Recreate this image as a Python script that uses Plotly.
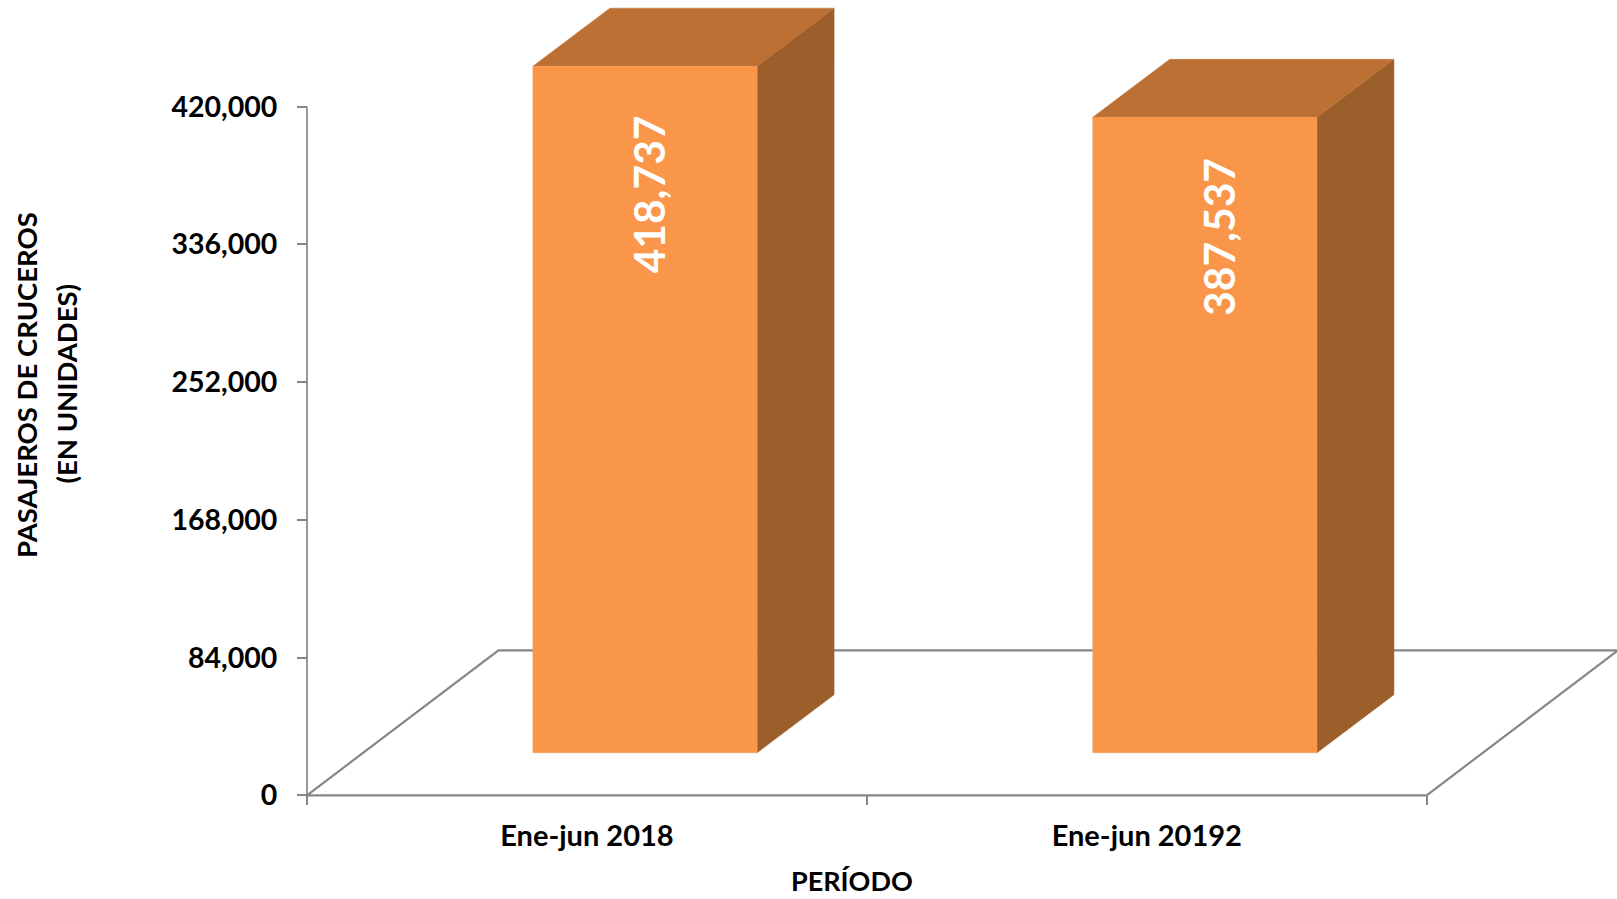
import plotly.graph_objects as go

categories = ["Ene-jun 2018", "Ene-jun 20192"]
passengers = [418737, 387537]
value_labels = ["418,737", "387,537"]
y_ticks = [0, 84000, 168000, 252000, 336000, 420000]
y_tick_labels = ["0", "84,000", "168,000", "252,000", "336,000", "420,000"]
x_boundaries = [0, 1, 2]
x_centres = [0.5, 1.5]
label_x = [0.6105, 1.627]
label_y = [366400, 340500]

W, H = 1617, 899
L, R, T, B = 307, 1426.7, 106.7, 795.3
px_per_cat = (R - L) / 2
px_per_val = (B - T) / 420000

# oblique projection of the 3-D look, in axis units
FLOOR_DX, FLOOR_DY = 0.342, 88440
BAR_LEFT, BAR_W = 0.4035, 0.4005
BAR_BASE = 25980
DEPTH_DX, DEPTH_DY = 0.1375, 35380

FRONT, TOP, SIDE = "#F9964A", "#BC7034", "#9C5F2B"
AXIS = "#868686"
FONT = "Lato"

fig = go.Figure()


def poly(xs, ys, color):
    fig.add_trace(go.Scatter(x=xs, y=ys, mode="lines", fill="toself", fillcolor=color,
                             line=dict(color=color, width=0.5),
                             hoverinfo="skip", showlegend=False))


def rule(xs, ys, width):
    fig.add_trace(go.Scatter(x=xs, y=ys, mode="lines", line=dict(color=AXIS, width=width),
                             hoverinfo="skip", showlegend=False))


# axis lines and floor outline
rule([0, 0], [y_ticks[0], y_ticks[-1]], 1.7)
rule([x_boundaries[0], x_boundaries[-1]], [0, 0], 2.2)
rule([x_boundaries[0], FLOOR_DX, x_boundaries[-1] + FLOOR_DX, x_boundaries[-1]],
     [0, FLOOR_DY, FLOOR_DY, 0], 2.2)

for i, v in enumerate(passengers):
    x0 = i + BAR_LEFT
    x1 = x0 + BAR_W
    y0 = BAR_BASE
    y1 = BAR_BASE + v
    poly([x1, x1 + DEPTH_DX, x1 + DEPTH_DX, x1, x1],
         [y0, y0 + DEPTH_DY, y1 + DEPTH_DY, y1, y0], SIDE)
    poly([x0, x0 + DEPTH_DX, x1 + DEPTH_DX, x1, x0],
         [y1, y1 + DEPTH_DY, y1 + DEPTH_DY, y1, y1], TOP)
    poly([x0, x1, x1, x0, x0], [y0, y0, y1, y1, y0], FRONT)

annotations = [
    dict(x=lx, y=ly, xref="x", yref="y", text=t, textangle=-90, showarrow=False,
         xanchor="center", yanchor="middle",
         font=dict(family=FONT, size=42.5, color="white", weight=700))
    for lx, ly, t in zip(label_x, label_y, value_labels)
]
title_font = dict(family=FONT, size=27.5, color="black", weight=700)
annotations += [
    dict(x=852 / W, y=1 - 880.5 / H, xref="paper", yref="paper", text="PERÍODO", showarrow=False,
         xanchor="center", yanchor="middle",
         font=dict(family=FONT, size=27, color="black", weight=700)),
    dict(x=26 / W, y=1 - 385 / H, xref="paper", yref="paper", text="PASAJEROS DE CRUCEROS",
         textangle=-90, showarrow=False, xanchor="center", yanchor="middle", font=title_font),
    dict(x=67 / W, y=1 - 383.6 / H, xref="paper", yref="paper", text="(EN UNIDADES)",
         textangle=-90, showarrow=False, xanchor="center", yanchor="middle", font=title_font),
]

fig.update_layout(
    width=W, height=H, autosize=False,
    margin=dict(l=0, r=0, t=0, b=0, pad=0),
    paper_bgcolor="white", plot_bgcolor="white", showlegend=False,
    annotations=annotations,
    xaxis=dict(range=[-L / px_per_cat, (W - L) / px_per_cat], showgrid=False, zeroline=False,
               showline=False, anchor="free", position=(H - B) / H,
               tickmode="array", tickvals=x_centres, ticktext=categories, ticks="",
               minor=dict(tickmode="array", tickvals=x_boundaries, ticks="outside",
                          ticklen=9, tickwidth=1.5, tickcolor=AXIS, showgrid=False),
               ticklabelstandoff=21,
               tickfont=dict(family=FONT, size=29, color="black", weight=700)),
    yaxis=dict(range=[-(H - B) / px_per_val, B / px_per_val], showgrid=False, zeroline=False,
               showline=False, anchor="free", position=L / W,
               tickmode="array", tickvals=y_ticks, ticktext=y_tick_labels, ticks="outside",
               ticklen=10, tickwidth=1.5, tickcolor=AXIS,
               ticklabelstandoff=14,
               tickfont=dict(family=FONT, size=28.5, color="black", weight=700)),
)

fig.write_html("out.html", config={"displayModeBar": False},
               post_script="document.body.style.margin='0';document.body.style.overflow='hidden';")
